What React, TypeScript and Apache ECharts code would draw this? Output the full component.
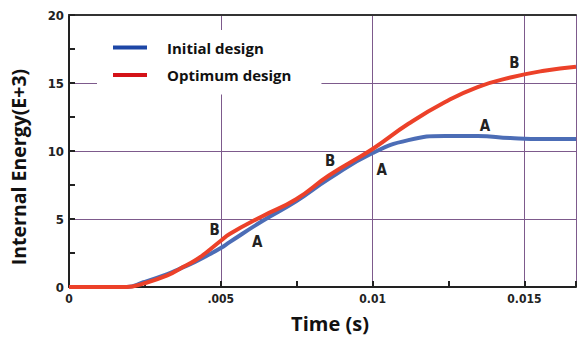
import React, { useEffect, useRef } from "react";
import * as echarts from "echarts";

const timeS = [0, 0.0012, 0.0019, 0.00245, 0.00324, 0.00366, 0.00415, 0.0045, 0.005, 0.00529, 0.00637, 0.00748, 0.00856, 0.01, 0.01118, 0.01239, 0.01346, 0.01454, 0.01565, 0.0167];
const initialDesign = [0, 0, 0, 0.35, 0.95, 1.35, 1.85, 2.25, 2.87, 3.3, 4.85, 6.3, 7.95, 9.85, 10.8, 11.1, 11.1, 10.95, 10.88, 10.88];
const optimumDesign = [0, 0, 0, 0.25, 0.85, 1.35, 1.95, 2.5, 3.4, 3.9, 5.2, 6.45, 8.2, 10.15, 12.0, 13.6, 14.7, 15.4, 15.9, 16.2];

const xTickLabels: Record<string, string> = { "0": "0", "0.005": ".005", "0.01": "0.01", "0.015": "0.015" };
const yTickLabels = ["0", "5", "10", "15", "20"];

const labelsA = [
  { t: 0.0062, v: 3.3 },
  { t: 0.0103, v: 8.6 },
  { t: 0.0137, v: 11.84 },
];
const labelsB = [
  { t: 0.0048, v: 4.2 },
  { t: 0.0086, v: 9.26 },
  { t: 0.01467, v: 16.5 },
];

const narrow = "'Liberation Sans Narrow', 'DejaVu Sans Condensed', sans-serif";
const gridColor = "#7d5a8c";

export default function App() {
  const ref = useRef<HTMLDivElement>(null);
  useEffect(() => {
    if (!ref.current) return;
    const chart = echarts.init(ref.current, undefined, { renderer: "svg" });
    const mkLabel = (txt: string, arr: { t: number; v: number }[]) => ({
      symbol: "circle",
      symbolSize: 0,
      silent: true,
      label: {
        show: true,
        position: "inside",
        formatter: txt,
        color: "#222",
        fontFamily: narrow,
        fontWeight: "bold",
        fontSize: 15,
      },
      data: arr.map((p) => ({ coord: [p.t, p.v] })),
    });
    chart.setOption({
      animation: false,
      backgroundColor: "#ffffff",
      grid: { left: 68, top: 15, right: 0, bottom: 56, containLabel: false },
      legend: {
        orient: "vertical",
        left: 97,
        top: 30,
        padding: [10, 30, 12, 16],
        itemGap: 12.5,
        itemWidth: 34,
        itemHeight: 4,
        backgroundColor: "#ffffff",
        icon: "rect",
        textStyle: {
          fontFamily: "'Open Sans', sans-serif",
          fontWeight: "bold",
          fontSize: 15,
          color: "#111",
          padding: [0, 0, 0, 15],
        },
        data: [
          { name: "Initial design", itemStyle: { color: "#1d46a6" } },
          { name: "Optimum design", itemStyle: { color: "#d41218" } },
        ],
      },
      xAxis: [
        {
          type: "value",
          min: 0,
          max: 0.0167,
          interval: 0.005,
          name: "Time (s)",
          nameLocation: "middle",
          nameGap: 26,
          nameTextStyle: {
            fontFamily: "'Open Sans', sans-serif",
            fontWeight: "bold",
            fontSize: 20,
            color: "#111",
            padding: [0, 0, 0, 15],
          },
          axisLine: { show: true, onZero: false, lineStyle: { color: "#222", width: 2 } },
          axisTick: { show: true, inside: true, length: 6, lineStyle: { color: "#222", width: 2 } },
          minorTick: { show: true, splitNumber: 2, length: 6, lineStyle: { color: "#222", width: 2 } },
          axisLabel: {
            margin: 6,
            fontFamily: narrow,
            fontWeight: "bold",
            fontSize: 12,
            color: "#222",
            formatter: (v: number) => xTickLabels[String(+v.toFixed(4))] ?? "",
          },
          splitLine: { show: true, lineStyle: { color: gridColor, width: 1 } },
        },
        {
          type: "value",
          position: "top",
          min: 0,
          max: 0.0167,
          axisLine: { show: true, onZero: false, lineStyle: { color: "#333", width: 2 } },
          axisTick: { show: false },
          axisLabel: { show: false },
          splitLine: { show: false },
        },
      ],
      yAxis: {
        type: "value",
        min: 0,
        max: 20,
        interval: 5,
        name: "Internal Energy(E+3)",
        nameLocation: "middle",
        nameGap: 41,
        nameTextStyle: {
          fontFamily: "'Open Sans', sans-serif",
          fontWeight: "bold",
          fontSize: 19.5,
          color: "#111",
          padding: [0, 32, 0, 0],
        },
        axisLine: { show: true, onZero: false, lineStyle: { color: "#222", width: 2 } },
        axisTick: { show: true, inside: true, length: 6, lineStyle: { color: "#222", width: 2 } },
        minorTick: { show: true, splitNumber: 2, length: 6, lineStyle: { color: "#222", width: 2 } },
        axisLabel: {
          margin: 5,
          fontFamily: narrow,
          fontWeight: "bold",
          fontSize: 13,
          color: "#222",
          formatter: (v: number) => yTickLabels[Math.round(v / 5)] ?? "",
        },
        splitLine: { show: true, lineStyle: { color: gridColor, width: 1 } },
      },
      series: [
        {
          name: "Initial design",
          type: "line",
          smooth: 0.5,
          symbol: "none",
          z: 3,
          data: timeS.map((t, i) => [t, initialDesign[i]]),
          lineStyle: { color: "#4c6db6", width: 4 },
          itemStyle: { color: "#4c6db6" },
          markPoint: mkLabel("A", labelsA),
        },
        {
          name: "Optimum design",
          type: "line",
          smooth: 0.5,
          symbol: "none",
          z: 4,
          data: timeS.map((t, i) => [t, optimumDesign[i]]),
          lineStyle: { color: "#ec4129", width: 4 },
          itemStyle: { color: "#ec4129" },
          markPoint: mkLabel("B", labelsB),
        },
      ],
    });
    return () => chart.dispose();
  }, []);
  return <div ref={ref} style={{ position: "fixed", left: 0, top: 0, width: 579, height: 343 }} />;
}
